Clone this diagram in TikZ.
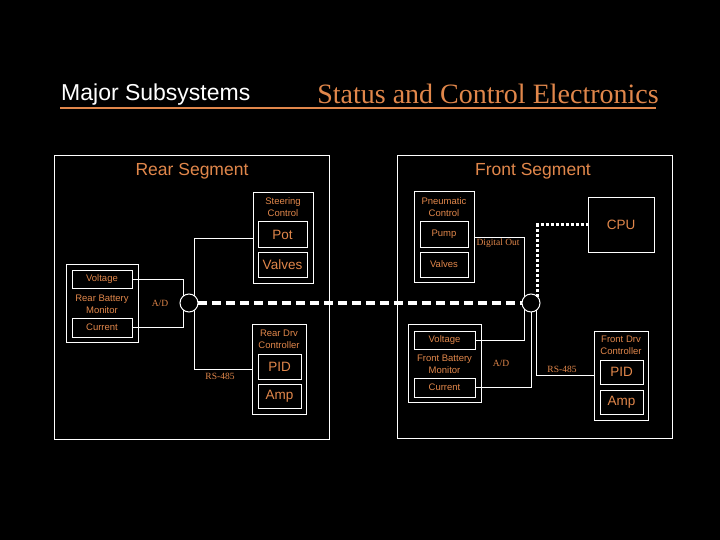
\documentclass[tikz,border=0pt]{standalone}
\usepackage{fontspec}
\setmainfont{Liberation Sans}
\newfontfamily\timesfont{Liberation Serif}
\definecolor{sco}{RGB}{225,135,75}

\tikzset{
  box/.style={draw=white, line width=1pt, inner sep=0pt, outer sep=0pt, rectangle},
  small/.style={font=\fontsize{9.5}{12}\selectfont, text=sco, align=center, inner sep=0pt},
  big/.style={font=\fontsize{13.5}{16}\selectfont, text=sco},
  seg/.style={font=\fontsize{17.5}{20}\selectfont, text=sco, inner sep=0pt},
  note/.style={font=\timesfont\fontsize{9.5}{12}\selectfont, text=sco, inner sep=0pt},
  wire/.style={white, line width=1pt},
  bus/.style={white, line width=3.5pt, dash pattern=on 9pt off 5pt},
  dotbus/.style={white, line width=3pt, dash pattern=on 3pt off 2pt},
  tap/.style={draw=white, line width=1pt, circle, minimum size=18pt, inner sep=0pt, outer sep=0pt}
}

\begin{document}
\begin{tikzpicture}[x=1pt,y=-1pt]
\fill[black] (0,0) rectangle (720,540);

% TITLE
\node[anchor=west, text=white, font=\fontsize{23}{26}\selectfont, inner sep=0pt] (major) at (61,95) {Major Subsystems};
\node[text=sco, font=\timesfont\fontsize{28}{32}\selectfont, inner sep=0pt] (status) at (488,94) {Status and Control Electronics};
\draw[sco, line width=1.2pt] (60,108) -- (656,108);

% SEGMENTS
\node[box, minimum width=275pt, minimum height=283pt] (rear) at (191.5,297.5) {};
\node[box, minimum width=275pt, minimum height=282pt] (front) at (534.5,297) {};
\node[seg] (reartxt) at (192,171) {Rear Segment};
\node[seg] (fronttxt) at (533,171) {Front Segment};

% REAR BOXES
\node[box, minimum width=60pt, minimum height=90pt] (steer) at (283,238) {};
\node[small] (steertxt) at (283,207) {Steering\\Control};
\node[box, big, minimum width=49pt, minimum height=25pt] (rpot) at (282.5,234.5) {Pot};
\node[box, big, minimum width=49pt, minimum height=25pt] (rvalves) at (282.5,264.5) {Valves};

\node[box, minimum width=72pt, minimum height=78pt] (rbat) at (102,303) {};
\node[box, small, minimum width=60pt, minimum height=18pt] (rvolt) at (102,279) {Voltage};
\node[box, small, minimum width=60pt, minimum height=19pt] (rcur) at (102,327.5) {Current};
\node[small] (rbattxt) at (102,304) {Rear Battery\\Monitor};

\node[box, minimum width=54pt, minimum height=90pt] (rdrv) at (279,369) {};
\node[small] (rdrvtxt) at (279,339) {Rear Drv\\Controller};
\node[box, big, minimum width=43pt, minimum height=25pt] (rpid) at (279.5,366.5) {PID};
\node[box, big, minimum width=43pt, minimum height=24pt] (ramp) at (279.5,396) {Amp};

\node[tap] (rcirc) at (189,303) {};

% FRONT BOXES
\node[box, minimum width=60pt, minimum height=90pt] (pneu) at (444,237) {};
\node[small] (pneutxt) at (444,207) {Pneumatic\\Control};
\node[box, small, minimum width=48pt, minimum height=25pt] (fpump) at (444,234.5) {Pump};
\node[box, small, minimum width=48pt, minimum height=25pt] (fvalves) at (444,264.5) {Valves};

\node[box, big, minimum width=66pt, minimum height=54pt] (cpu) at (621,225) {CPU};

\node[box, minimum width=73pt, minimum height=78pt] (fbat) at (444.5,363) {};
\node[box, small, minimum width=61pt, minimum height=18pt] (fvolt) at (444.5,340) {Voltage};
\node[box, small, minimum width=61pt, minimum height=19pt] (fcur) at (444.5,387.5) {Current};
\node[small] (fbattxt) at (444.5,364) {Front Battery\\Monitor};

\node[box, minimum width=54pt, minimum height=89pt] (fdrv) at (621,375.5) {};
\node[small] (fdrvtxt) at (621,345.5) {Front Drv\\Controller};
\node[box, big, minimum width=43pt, minimum height=24pt] (fpid) at (621.5,372) {PID};
\node[box, big, minimum width=43pt, minimum height=24pt] (famp) at (621.5,402) {Amp};

\node[tap] (fcirc) at (531,303) {};

% WIRES
\draw[wire] (steer.west) -| (rcirc.50);
\draw[wire] (rvolt.east) -| (rcirc.130);
\draw[wire] (rcur.east) -| (rcirc.230);
\draw[wire] (rcirc.310) |- (rdrv.west);

\draw[wire] (pneu.east) -| (fcirc.140);
\draw[wire] (fcirc.220) |- (fvolt.east);
\draw[wire] (fcirc.270) |- (fcur.east);
\draw[wire] (fcirc.310) |- (fdrv.west);

\draw[bus] (rcirc.east) -- (fcirc.west);
\draw[dotbus] (fcirc.40) |- (cpu.west);

% NOTES
\node[note] (rad) at (160,303) {A/D};
\node[note] (rrs) at (220,376) {RS-485};
\node[note] (dout) at (498,243) {Digital Out};
\node[note] (fad) at (501,363) {A/D};
\node[note] (frs) at (562,369) {RS-485};

\end{tikzpicture}
\end{document}
